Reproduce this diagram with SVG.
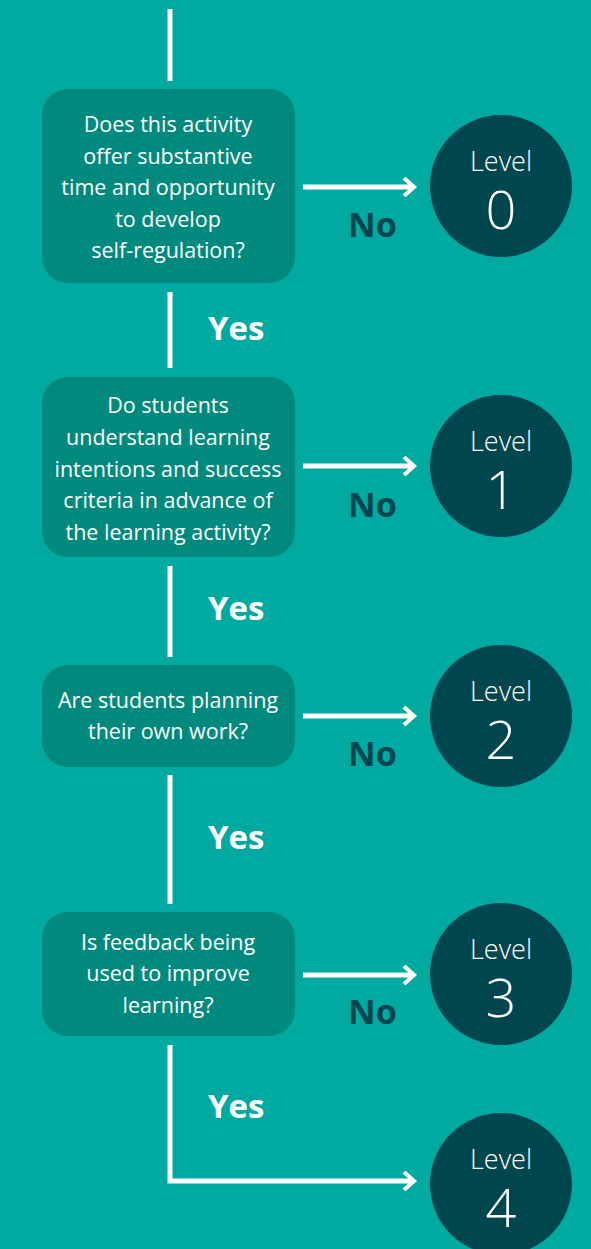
<svg xmlns="http://www.w3.org/2000/svg" width="591" height="1249" viewBox="0 0 591 1249">
<defs>
<style>
.q{fill:#008A7E}
.qt{fill:#FFFFFF;font-family:"Open Sans","Noto Sans",sans-serif;font-size:21.5px;text-anchor:middle}
.lv{fill:#00464F}
.lt{fill:#FFFFFF;font-family:"Open Sans","Noto Sans",sans-serif;font-weight:300;text-anchor:middle}
.yes{fill:#FFFFFF;font-family:"Open Sans","Noto Sans",sans-serif;font-weight:700;font-size:33px}
.no{fill:#00464F;font-family:"Open Sans","Noto Sans",sans-serif;font-weight:700;font-size:34px}
.ln{fill:none;stroke:#FFFFFF;stroke-width:5}
</style>
<marker id="chev" viewBox="0 0 20 20" refX="14" refY="10" markerWidth="20" markerHeight="20" markerUnits="userSpaceOnUse" orient="auto">
<path d="M4 1 L14 10 L4 19" fill="none" stroke="#FFFFFF" stroke-width="4"/>
</marker>
</defs>
<rect width="591" height="1249" fill="#00AAA0"/>
<g id="connectors">
<line class="ln" x1="170" y1="9" x2="170" y2="81"/>
<line class="ln" x1="170" y1="292" x2="170" y2="368"/>
<line class="ln" x1="170" y1="566" x2="170" y2="657"/>
<line class="ln" x1="170" y1="775" x2="170" y2="904"/>
<polyline class="ln" points="170,1045 170,1181 414,1181" marker-end="url(#chev)"/>
<line class="ln" x1="303" y1="187" x2="414" y2="187" marker-end="url(#chev)"/>
<line class="ln" x1="303" y1="466" x2="414" y2="466" marker-end="url(#chev)"/>
<line class="ln" x1="303" y1="716" x2="414" y2="716" marker-end="url(#chev)"/>
<line class="ln" x1="303" y1="975" x2="414" y2="975" marker-end="url(#chev)"/>
<text class="yes" x="208" y="340">Yes</text>
<text class="yes" x="208" y="620">Yes</text>
<text class="yes" x="208" y="849">Yes</text>
<text class="yes" x="208" y="1118">Yes</text>
<text class="no" x="348" y="237">No</text>
<text class="no" x="348" y="517">No</text>
<text class="no" x="348" y="766">No</text>
<text class="no" x="348" y="1024">No</text>
</g>
<g id="q1">
<rect class="q" x="42" y="89" width="253" height="194" rx="26"/>
<text class="qt"><tspan x="168" y="132">Does this activity</tspan><tspan x="168" y="164">offer substantive</tspan><tspan x="168" y="195">time and opportunity</tspan><tspan x="168" y="227">to develop</tspan><tspan x="168" y="258">self-regulation?</tspan></text>
</g>
<g id="q2">
<rect class="q" x="42" y="377" width="253" height="180" rx="26"/>
<text class="qt"><tspan x="168" y="413">Do students</tspan><tspan x="168" y="445">understand learning</tspan><tspan x="168" y="477">intentions and success</tspan><tspan x="168" y="508">criteria in advance of</tspan><tspan x="168" y="540">the learning activity?</tspan></text>
</g>
<g id="q3">
<rect class="q" x="42" y="665" width="253" height="102" rx="26"/>
<text class="qt"><tspan x="168" y="708">Are students planning</tspan><tspan x="168" y="739">their own work?</tspan></text>
</g>
<g id="q4">
<rect class="q" x="42" y="912" width="253" height="124" rx="26"/>
<text class="qt"><tspan x="168" y="950">Is feedback being</tspan><tspan x="168" y="981">used to improve</tspan><tspan x="168" y="1013">learning?</tspan></text>
</g>
<g id="level0">
<circle class="lv" cx="501" cy="186" r="71"/>
<text class="lt" x="501" y="171" font-size="27">Level</text>
<text class="lt" x="501" y="229" font-size="54">0</text>
</g>
<g id="level1">
<circle class="lv" cx="501" cy="466" r="71"/>
<text class="lt" x="501" y="451" font-size="27">Level</text>
<text class="lt" x="501" y="509" font-size="54">1</text>
</g>
<g id="level2">
<circle class="lv" cx="501" cy="716" r="71"/>
<text class="lt" x="501" y="701" font-size="27">Level</text>
<text class="lt" x="501" y="759" font-size="54">2</text>
</g>
<g id="level3">
<circle class="lv" cx="501" cy="974" r="71"/>
<text class="lt" x="501" y="959" font-size="27">Level</text>
<text class="lt" x="501" y="1017" font-size="54">3</text>
</g>
<g id="level4">
<circle class="lv" cx="501" cy="1184" r="71"/>
<text class="lt" x="501" y="1169" font-size="27">Level</text>
<text class="lt" x="501" y="1227" font-size="54">4</text>
</g>
</svg>
